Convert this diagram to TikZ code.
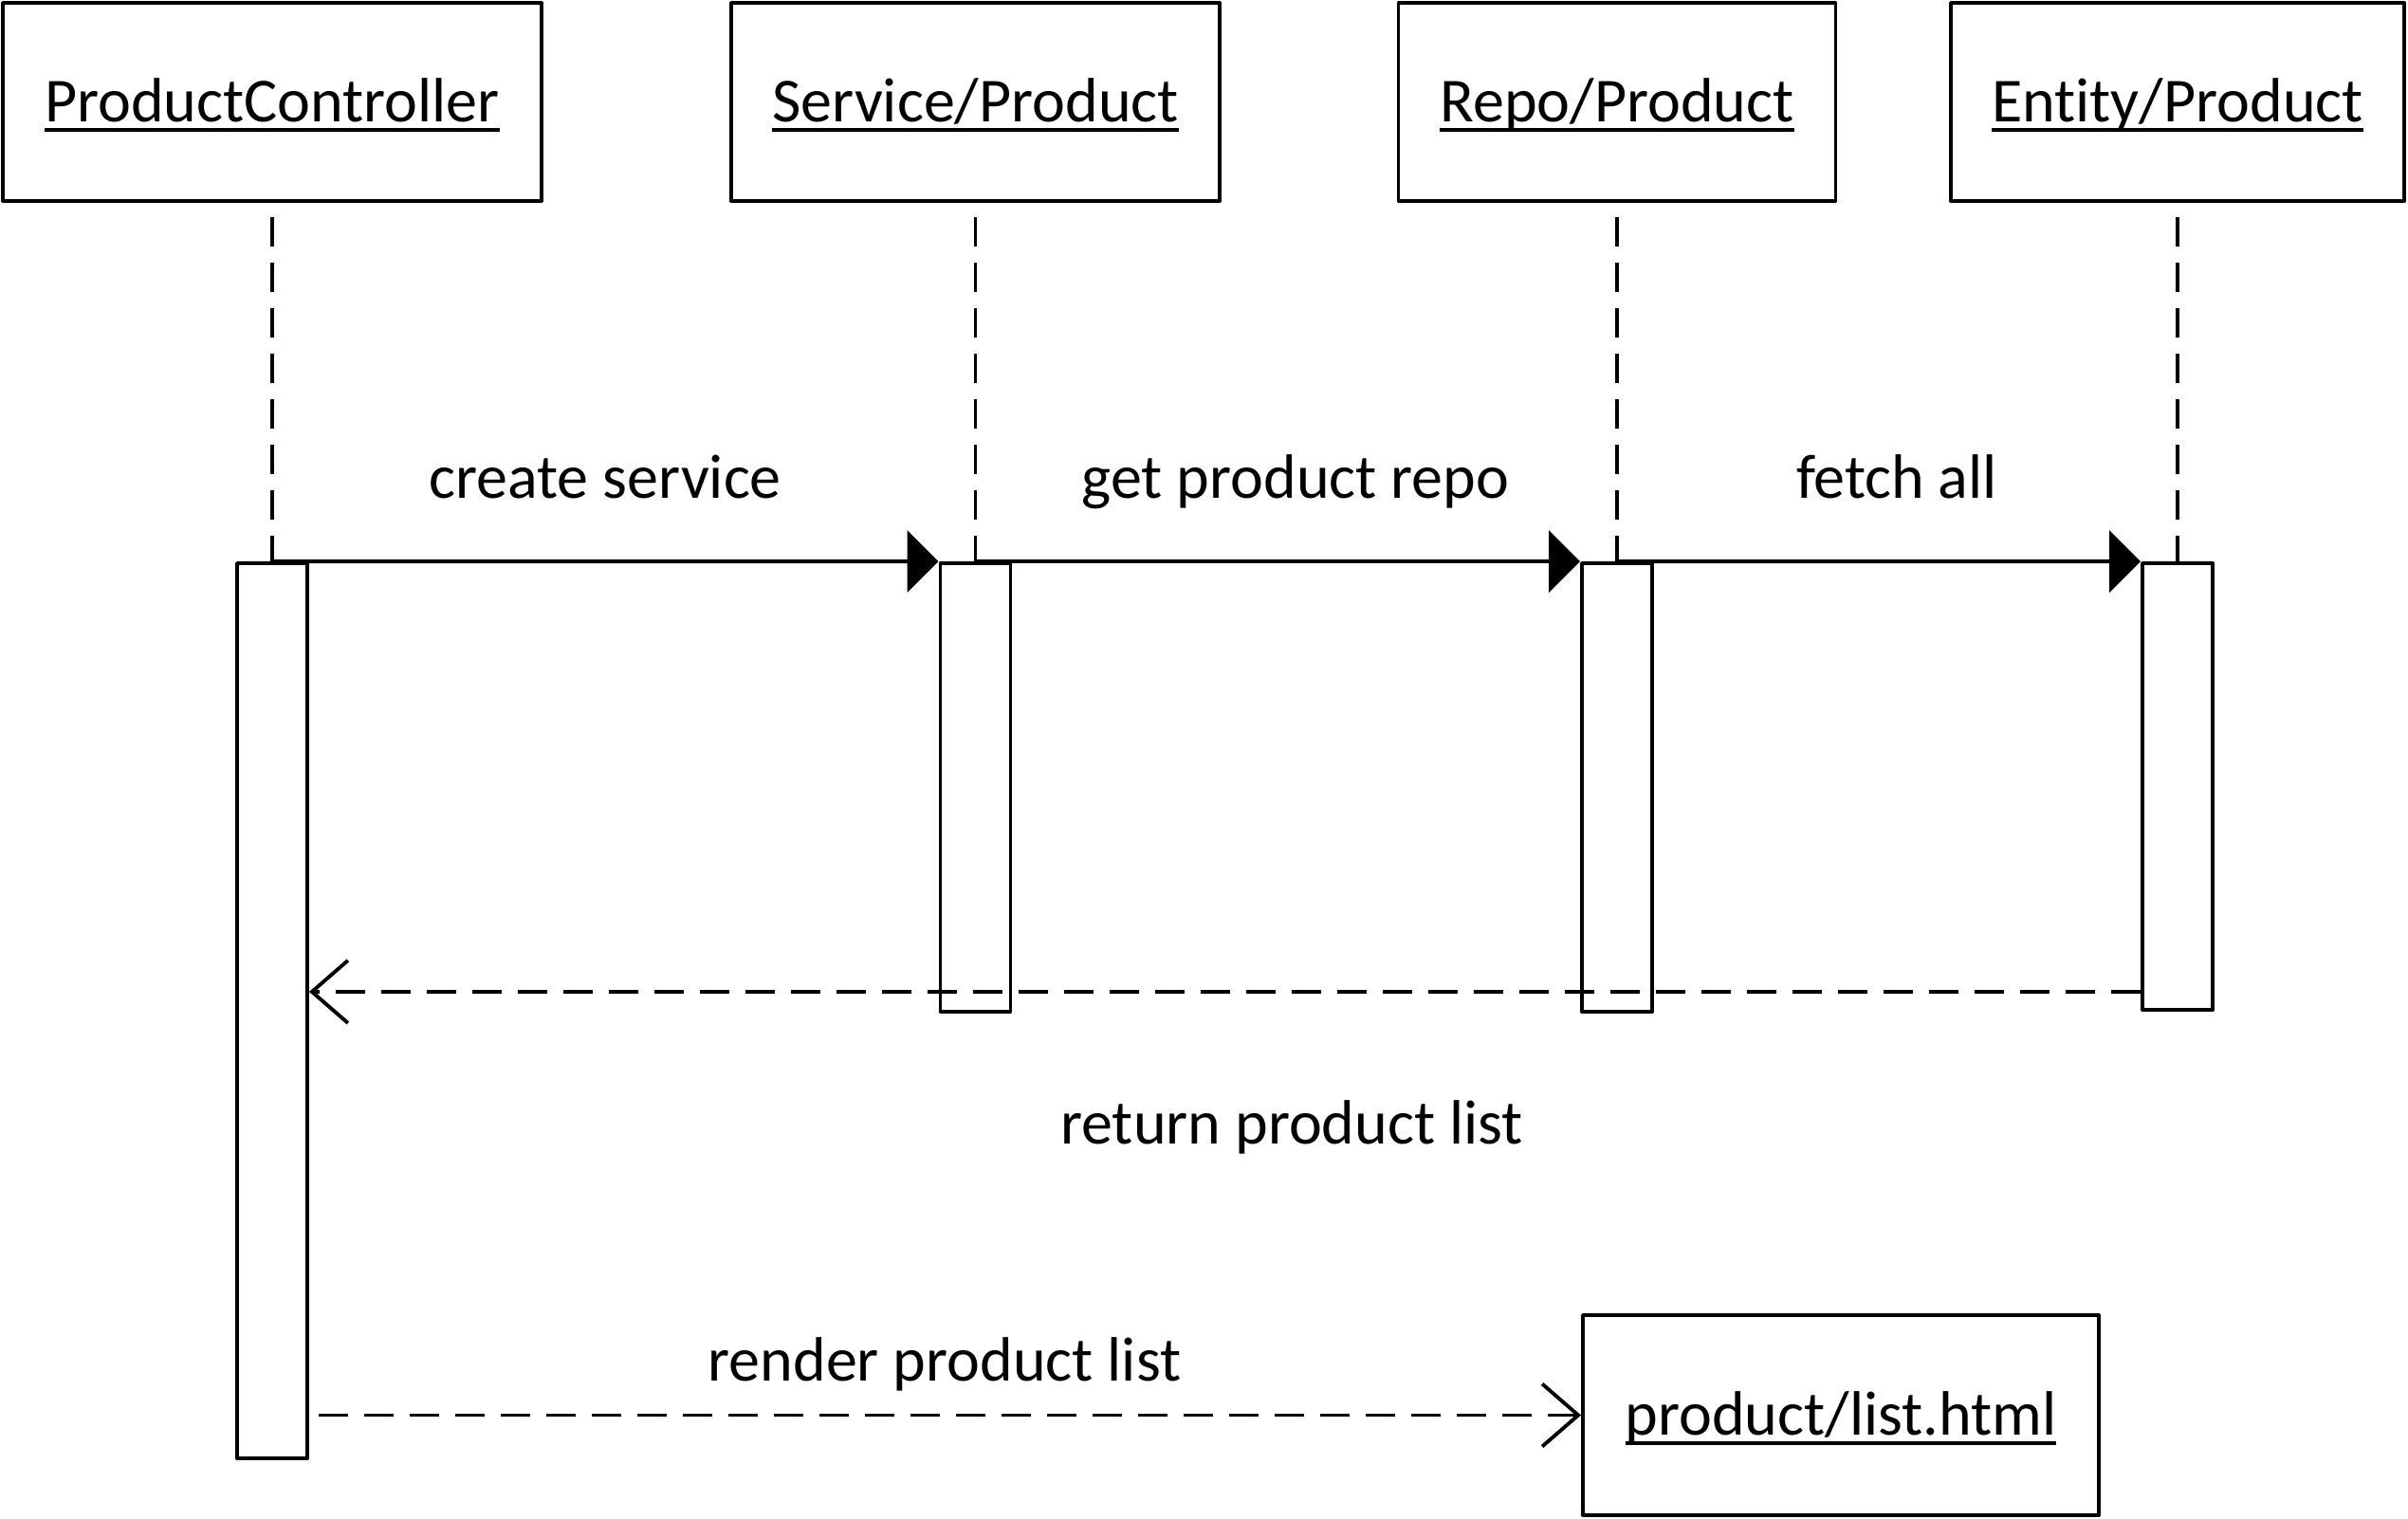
\documentclass[tikz,border=0pt]{standalone}
\usepackage{fontspec}
\setmainfont{Carlito}[Ligatures=NoCommon]
\usetikzlibrary{arrows.meta}
\newcommand\uname[1]{\setbox0\hbox{#1}\rlap{\rule[-3.2pt]{\wd0}{1.1pt}}\box0}
\begin{document}
\begin{tikzpicture}[line join=round,line width=1.1pt,
  obj/.style={draw,minimum height=2.09cm,text height=.55cm,text depth=.14cm,inner sep=0pt,font=\fontsize{18.8}{22}\selectfont},
  act/.style={draw,fill=white,minimum width=.74cm,inner sep=0pt},
  life/.style={dash pattern=on .31cm off .17cm},
  call/.style={-{Triangle[length=.33cm,width=.65cm]}},
  reply/.style={dash pattern=on .31cm off .17cm,-{Straight Barb[length=.38cm,width=.66cm]}},
  msg/.style={anchor=base,font=\fontsize{18.8}{22}\selectfont}]
\useasboundingbox (0,0) rectangle (25.39,-16.01);
% objects
\node[obj,minimum width=5.68cm] (ctrl) at (2.87,-1.075) {\uname{ProductController}};
\node[obj,minimum width=5.15cm] (svc) at (10.285,-1.075) {\uname{Service/Product}};
\node[obj,minimum width=4.61cm] (repo) at (17.05,-1.075) {\uname{Repo/Product}};
\node[obj,minimum width=4.78cm] (ent) at (22.96,-1.075) {\uname{Entity/Product}};
\node[obj,minimum width=5.44cm,minimum height=2.11cm] (view) at (19.41,-14.925) {\uname{product/list.html}};

% activations
\node[act,minimum height=9.44cm] (ctrlact) at (2.87,-10.66) {};
\node[act,minimum height=4.73cm] (svcact) at (10.285,-8.305) {};
\node[act,minimum height=4.73cm] (repoact) at (17.05,-8.305) {};
\node[act,minimum height=4.71cm] (entact) at (22.96,-8.295) {};

% lifelines
\draw[life] ([yshift=-.15cm]ctrl.south) -- (ctrlact.north);
\draw[life] ([yshift=-.15cm]svc.south) -- (svcact.north);
\draw[life] ([yshift=-.15cm]repo.south) -- (repoact.north);
\draw[life] ([yshift=-.15cm]ent.south) -- (entact.north);

% messages
\draw[call] (ctrlact.north) -- (svcact.north west);
\draw[call] (svcact.north) -- (repoact.north west);
\draw[call] (repoact.north) -- (entact.north west);
\coordinate (back) at ([yshift=.21cm]entact.south west);
\draw[reply] (back) -- (back -| ctrlact.east);
\draw[reply] ([xshift=.1cm]ctrlact.east |- view.west) -- (view.west);

\node[msg] (create) at (6.38,-5.25) {create service};
\node[msg] (getrepo) at (13.66,-5.25) {get product repo};
\node[msg] (fetch) at (20.00,-5.25) {fetch all};
\node[msg] (ret) at (13.62,-12.06) {return product list};
\node[msg] (render) at (9.96,-14.56) {render product list};
\end{tikzpicture}
\end{document}
